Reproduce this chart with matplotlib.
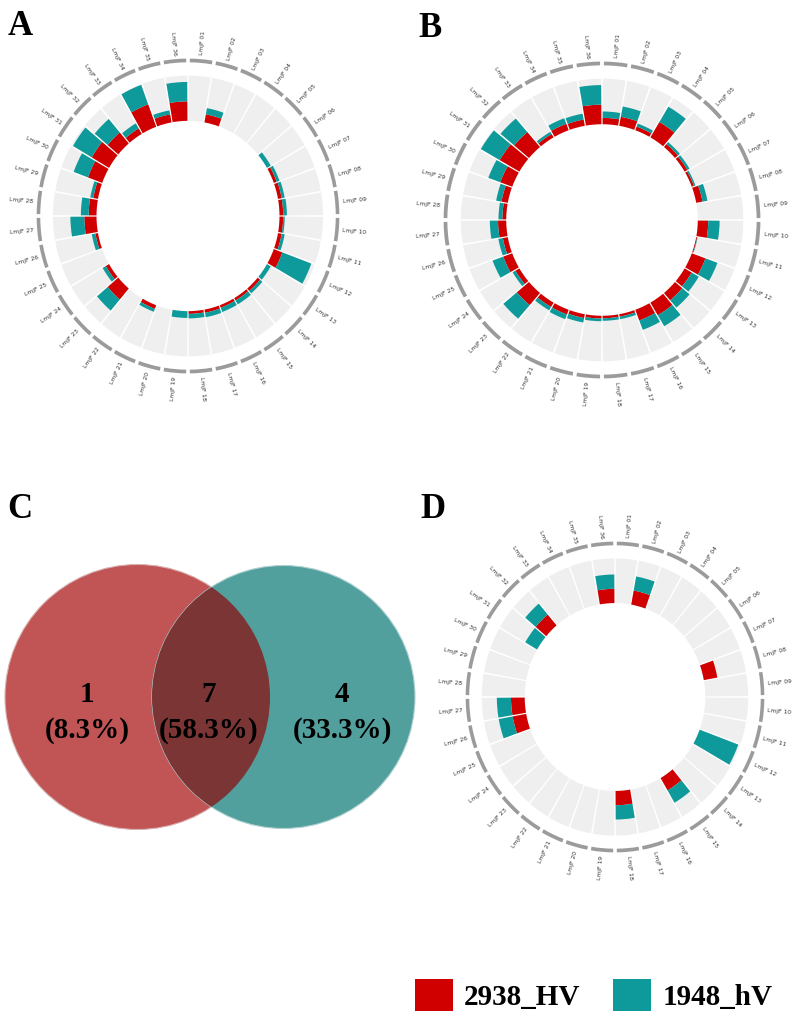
import numpy as np
import matplotlib.pyplot as plt
from matplotlib.patches import Circle, Patch

# chromosome names, clockwise from the top
chroms = ["LmjF %02d" % i for i in range(1, 37)]

# stacked values per chromosome (0-10 scale = full track)
a_hv = [0, 1.8, 0, 0, 0, 0, 0.7, 0.85, 0.85, 0.85, 0.85, 2.1, 0, 0.7, 0.6, 0.6, 0.7, 0.6,
        0, 0, 0.85, 0, 3.2, 0.85, 0, 0.6, 2.8, 1.8, 1.1, 3.5, 4.6, 3.2, 1.4, 5.3, 1.8, 4.3]
a_lv = [0, 1.4, 0, 0, 0, 1.0, 0.7, 0.7, 0.85, 0.35, 0.7, 7.1, 1.0, 0.7, 1.0, 1.0, 1.0, 1.0,
        1.5, 0, 0.7, 0, 3.2, 0.85, 0, 0.85, 3.2, 1.8, 0.7, 3.5, 5.0, 3.9, 1.3, 4.6, 0.9, 4.3]

b_hv = [1.4, 2.0, 0.85, 3.9, 0.85, 0.7, 0.5, 1.4, 0, 2.3, 0.2, 3.2, 1.8, 2.1, 3.2, 2.5, 0.55, 0.55,
        0.6, 0.85, 1.1, 1.1, 3.5, 1.0, 2.1, 1.1, 1.8, 0.85, 1.4, 2.8, 5.0, 4.3, 0.85, 1.5, 1.4, 4.3]
b_lv = [1.4, 2.3, 0.7, 3.9, 0.55, 0.55, 0.35, 1.1, 0, 2.5, 0.1, 2.8, 1.8, 2.1, 2.8, 2.2, 0.55, 0.55,
        0.6, 1.0, 1.1, 0.85, 3.9, 0.7, 2.5, 1.0, 1.8, 0.85, 1.2, 2.8, 4.8, 3.9, 0.55, 1.3, 1.3, 4.3]

d_hv = [0, 3.2, 0, 0, 0, 0, 0, 3.2, 0, 0, 0, 0, 0, 0, 3.2, 0, 0, 3.2,
        0, 0, 0, 0, 0, 0, 0, 3.2, 3.2, 0, 0, 0, 0, 3.2, 0, 0, 0, 3.2]
d_lv = [0, 3.2, 0, 0, 0, 0, 0, 0, 0, 0, 0, 9.6, 0, 0, 3.2, 0, 0, 3.2,
        0, 0, 0, 0, 0, 0, 0, 3.3, 3.3, 0, 0, 0, 3.2, 3.2, 0, 0, 0, 3.2]

# venn counts: only 2938_HV, shared, only 1948_hV
venn_counts = [1, 7, 4]
series = ["2938_HV", "1948_hV"]

RED = "#d00000"
TEAL = "#0e9a9a"
R_IN, R_OUT = 0.61, 0.90
SERIF = "Liberation Serif"

fig = plt.figure(figsize=(8, 10.23), dpi=100)
bg = fig.add_axes([0, 0, 1, 1])
bg.set_xlim(0, 800)
bg.set_ylim(1023, 0)
bg.axis("off")


def circ_panel(rect, red, teal):
    ax = fig.add_axes(rect, projection="polar")
    ax.set_aspect("auto")
    ax.set_theta_zero_location("N")
    ax.set_theta_direction(-1)
    n = len(chroms)
    theta = np.deg2rad(np.arange(n) * 10 + 5)
    w = np.deg2rad(10)
    scale = (R_OUT - R_IN) / 10.0
    red_h = np.array(red) * scale
    teal_h = np.array(teal) * scale
    ax.bar(theta, R_OUT - R_IN, width=w * 0.93, bottom=R_IN, color="#efefef", linewidth=0)
    ax.bar(theta, red_h, width=w * 0.93, bottom=R_IN, color=RED, linewidth=0)
    ax.bar(theta, teal_h, width=w * 0.93, bottom=R_IN + red_h, color=TEAL, linewidth=0)
    # outer chromosome ring
    ax.bar(theta, 0.024, width=w * 0.86, bottom=0.985, color="#9b9b9b", linewidth=0)
    for t, lab in zip(np.rad2deg(theta), chroms):
        m = (90 - t) % 360
        if m > 180:
            m -= 360
        if -90 <= m <= 90:
            rot, ha = m, "left"
        else:
            rot, ha = m - 180 if m > 0 else m + 180, "right"
        ax.text(np.deg2rad(t), 1.035, lab, rotation=rot, rotation_mode="anchor",
                ha=ha, va="center", fontsize=4.3, color="#333333")
    ax.set_ylim(0, 1.05)
    ax.set_axis_off()
    return ax


def rect_for(cx, cy, rx, ry):
    hx, hy = rx * 1.05, ry * 1.05
    return [(cx - hx) / 800, (1023 - cy - hy) / 1023, 2 * hx / 800, 2 * hy / 1023]


circ_panel(rect_for(188, 216, 150, 156), a_hv, a_lv)
circ_panel(rect_for(602, 220, 157, 157), b_hv, b_lv)
circ_panel(rect_for(615, 697, 148, 154), d_hv, d_lv)

# Venn diagram
left = Circle((137.5, 697), 132.5, facecolor="#c15555", edgecolor="#d8b0b0", lw=0.8)
right = Circle((283.5, 697), 131.5, facecolor="#52a09e", edgecolor="#b0d0d0", lw=0.8)
bg.add_patch(left)
bg.add_patch(right)
lens = Circle((137.5, 697), 132.5, facecolor="#7b3535", edgecolor="none")
bg.add_patch(lens)
lens.set_clip_path(right)

total = sum(venn_counts)
for x, c in zip([87, 209, 342], venn_counts):
    bg.text(x, 694, str(c), ha="center", va="center", fontsize=21,
            fontweight="bold", family=SERIF, color="black")
    bg.text(x, 730, "(%.1f%%)" % (100.0 * c / total), ha="center", va="center",
            fontsize=21, fontweight="bold", family=SERIF, color="black")

for x, y, s in [(8, 35, "A"), (418, 37, "B"), (7, 518, "C"), (420, 518, "D")]:
    bg.text(x, y, s, ha="left", va="baseline", fontsize=25, fontweight="bold",
            family=SERIF)

handles = [Patch(facecolor=RED, edgecolor="none"), Patch(facecolor=TEAL, edgecolor="none")]
fig.legend(handles, series, loc="center left", bbox_to_anchor=(400 / 800, 1 - 995 / 1023),
           ncol=2, frameon=False, borderpad=0, handlelength=1.3, handleheight=1.3,
           handletextpad=0.4, columnspacing=1.1,
           prop={"family": SERIF, "weight": "bold", "size": 21})

fig.savefig("out.png", dpi=100)
